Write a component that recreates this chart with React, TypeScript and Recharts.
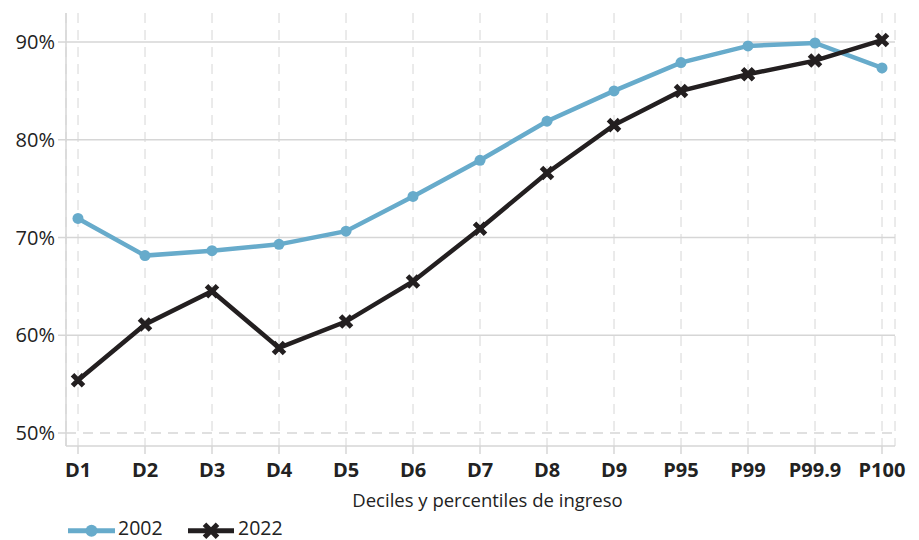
import { LineChart, Line, XAxis, YAxis, CartesianGrid, ReferenceLine } from "recharts";

const categories = ["D1", "D2", "D3", "D4", "D5", "D6", "D7", "D8", "D9", "P95", "P99", "P99.9", "P100"];
const values2002 = [71.95, 68.15, 68.65, 69.3, 70.65, 74.2, 77.9, 81.9, 85.0, 87.9, 89.6, 89.9, 87.35];
const values2022 = [55.4, 61.1, 64.5, 58.7, 61.4, 65.5, 70.9, 76.6, 81.5, 85.0, 86.7, 88.1, 90.2];
const yTicks = [50, 60, 70, 80, 90];
const seriesNames = ["2002", "2022"];

const BLUE = "#67abcb";
const BLACK = "#231f20";
const GRID = "#d6d6d6";
const FONT = "'Open Sans', 'Noto Sans', sans-serif";

const data = categories.map((c, i) => ({ cat: c, y2002: values2002[i], y2022: values2022[i] }));

const CrossDot = (props: any) => {
    const { cx, cy } = props;
    if (cx == null || cy == null) return null;
    const s = 5.5;
    return (
        <path
            d={`M${cx - s},${cy - s}L${cx + s},${cy + s}M${cx - s},${cy + s}L${cx + s},${cy - s}`}
            stroke={BLACK}
            strokeWidth={5}
            fill="none"
        />
    );
};

export default function App() {
    return (
        <div style={{ position: "absolute", left: 0, top: 0, width: 919, height: 540, background: "#fff", fontFamily: FONT }}>
            <LineChart width={919} height={540} data={data} margin={{ top: 13, right: 24, bottom: 30, left: 0 }}>
                <CartesianGrid horizontal={false} stroke={GRID} strokeDasharray="10 7" />
                {yTicks.map((t) => (
                    <ReferenceLine
                        key={t}
                        y={t}
                        stroke={GRID}
                        strokeWidth={1.5}
                        strokeDasharray={t === 50 ? "10 7" : undefined}
                    />
                ))}
                <XAxis
                    dataKey="cat"
                    height={64}
                    padding={{ left: 12, right: 13 }}
                    stroke={GRID}
                    strokeWidth={1.5}
                    tickSize={8}
                    tickMargin={9}
                    interval={0}
                    tick={{ fill: "#222", fontSize: 20, fontWeight: 700, fontFamily: FONT }}
                    label={{
                        value: "Deciles y percentiles de ingreso",
                        position: "insideBottom",
                        offset: 3,
                        dx: 7,
                        fill: "#222",
                        fontSize: 18.5,
                        fontFamily: FONT,
                    }}
                />
                <YAxis
                    width={66}
                    domain={[48.67, 92.97]}
                    ticks={yTicks}
                    tickFormatter={(v) => `${v}%`}
                    stroke={GRID}
                    strokeWidth={1.5}
                    tickSize={8}
                    tickMargin={3}
                    tick={{ fill: "#222", fontSize: 20, fontFamily: FONT }}
                    allowDataOverflow
                />
                <Line
                    dataKey="y2002"
                    stroke={BLUE}
                    strokeWidth={4.5}
                    dot={{ r: 5.5, fill: BLUE, stroke: "none" }}
                    isAnimationActive={false}
                />
                <Line
                    dataKey="y2022"
                    stroke={BLACK}
                    strokeWidth={4.5}
                    dot={<CrossDot />}
                    isAnimationActive={false}
                />
            </LineChart>
            {/* legend */}
            <svg width={320} height={28} style={{ position: "absolute", left: 0, top: 512 }}>
                <line x1={68} y1={18.7} x2={115} y2={18.7} stroke={BLUE} strokeWidth={5} />
                <circle cx={91.5} cy={18.7} r={6} fill={BLUE} />
                <text x={118} y={22.5} fontSize={19.5} fill="#222" fontFamily={FONT}>{seriesNames[0]}</text>
                <line x1={188} y1={18.7} x2={234} y2={18.7} stroke={BLACK} strokeWidth={5} />
                <path d="M204.5,12.2L217.5,25.2M204.5,25.2L217.5,12.2" stroke={BLACK} strokeWidth={5} />
                <text x={238} y={22.5} fontSize={19.5} fill="#222" fontFamily={FONT}>{seriesNames[1]}</text>
            </svg>
        </div>
    );
}
